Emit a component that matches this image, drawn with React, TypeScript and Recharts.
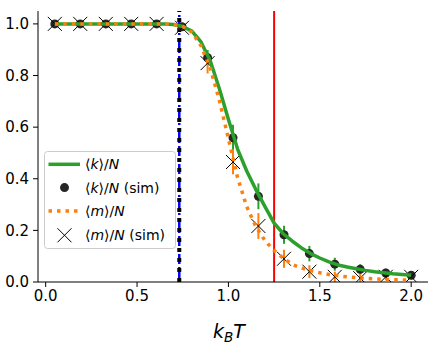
import React from 'react';
import {
  ComposedChart,
  Scatter,
  XAxis,
  YAxis,
  ReferenceLine,
  ErrorBar,
  Legend,
} from 'recharts';

// Simulation temperatures (k_B T)
const simT = [0.05, 0.189, 0.329, 0.468, 0.607, 0.746, 0.886, 1.025, 1.164, 1.304, 1.443, 1.582, 1.721, 1.861, 2.0];
// <k>/N simulation values and errors
const kSim = [1, 1, 1, 1, 1, 0.989, 0.869, 0.559, 0.332, 0.183, 0.11, 0.069, 0.049, 0.035, 0.026];
const kErr = [0.003, 0.003, 0.003, 0.003, 0.003, 0.006, 0.03, 0.05, 0.05, 0.035, 0.03, 0.025, 0.02, 0.017, 0.015];
// <m>/N simulation values and errors
const mSim = [1, 1, 1, 1, 1, 0.985, 0.848, 0.465, 0.217, 0.09, 0.04, 0.02, 0.015, 0.02, 0.02];
const mErr = [0, 0, 0, 0, 0, 0.006, 0.04, 0.048, 0.05, 0.035, 0.025, 0.02, 0.015, 0.012, 0.01];

// Theory curves
const theoryT = [
  0.05, 0.1, 0.15, 0.2, 0.25, 0.3, 0.35, 0.4, 0.45, 0.5, 0.55, 0.6, 0.65, 0.7, 0.75, 0.8, 0.85, 0.9, 0.95, 1.0,
  1.05, 1.1, 1.15, 1.2, 1.25, 1.3, 1.35, 1.4, 1.45, 1.5, 1.55, 1.6, 1.65, 1.7, 1.75, 1.8, 1.85, 1.9, 1.95, 2.0,
];
const kTheory = [
  1, 1, 1, 1, 1, 1, 1, 1, 1, 1, 1, 1, 1, 0.998, 0.99, 0.972, 0.93, 0.858, 0.75, 0.63,
  0.515, 0.43, 0.358, 0.292, 0.228, 0.187, 0.158, 0.132, 0.11, 0.093, 0.078, 0.066, 0.058, 0.051, 0.045, 0.04, 0.036, 0.032, 0.029, 0.026,
];
const mTheory = [
  1, 1, 1, 1, 1, 1, 1, 1, 1, 1, 1, 1, 1, 0.998, 0.99, 0.968, 0.915, 0.83, 0.705, 0.555,
  0.405, 0.292, 0.215, 0.16, 0.122, 0.092, 0.068, 0.054, 0.044, 0.036, 0.029, 0.024, 0.02, 0.017, 0.014, 0.012, 0.01, 0.009, 0.008, 0.007,
];

const xTicks = [0, 0.5, 1.0, 1.5, 2.0];
const yTicks = [0, 0.2, 0.4, 0.6, 0.8, 1.0];
const criticalT1 = 0.731;
const criticalT2 = 1.25;

const kSimData = simT.map((T, i) => ({ T, v: kSim[i], err: kErr[i] }));
const mSimData = simT.map((T, i) => ({ T, v: mSim[i], err: mErr[i] }));
const kTheoryData = theoryT.map((T, i) => ({ T, v: kTheory[i] }));
const mTheoryData = theoryT.map((T, i) => ({ T, v: mTheory[i] }));

const GREEN = '#2ca02c';
const ORANGE = '#ff7f0e';
const DOT = '#262626';
const FONT = 'DejaVu Sans';

const CircleShape = (p: any) => <circle cx={p.cx} cy={p.cy} r={4.5} fill={DOT} stroke="none" />;
const XShape = (p: any) => {
  const s = 7;
  return (
    <path
      d={`M${p.cx - s},${p.cy - s}L${p.cx + s},${p.cy + s}M${p.cx - s},${p.cy + s}L${p.cx + s},${p.cy - s}`}
      stroke="#000"
      strokeWidth={1}
      fill="none"
    />
  );
};
const NoShape = () => <g />;

const XLabel = (props: any) => {
  const vb = props.viewBox || { x: 38, y: 282, width: 390, height: 70 };
  const cx = vb.x + vb.width / 2 - 4;
  const y = vb.y + 56;
  return (
    <text x={cx} y={y} textAnchor="middle" fontFamily={FONT} fontSize={19} fontStyle="italic" fill="#000">
      k<tspan fontSize={13.5} dy={4}>B</tspan>
      <tspan fontSize={19} dy={-4}>T</tspan>
    </text>
  );
};

const MathLabel = ({ v, sim }: { v: string; sim: boolean }) => (
  <>
    <tspan>⟨</tspan>
    <tspan fontStyle="italic">{v}</tspan>
    <tspan>⟩/</tspan>
    <tspan fontStyle="italic">N</tspan>
    {sim ? <tspan> (sim)</tspan> : null}
  </>
);

const LegendBox = () => {
  const rows = [13.3, 36.6, 60, 84.3];
  return (
    <svg width={133} height={99} style={{ display: 'block' }}>
      <rect x={0.5} y={0.5} width={131} height={97} rx={3} ry={3} fill="rgba(255,255,255,0.8)" stroke="#cccccc" strokeWidth={1} />
      <line x1={4.5} x2={36} y1={rows[0]} y2={rows[0]} stroke={GREEN} strokeWidth={3.5} />
      <circle cx={20.5} cy={rows[1]} r={4.5} fill={DOT} />
      <line x1={4.5} x2={36} y1={rows[2]} y2={rows[2]} stroke={ORANGE} strokeWidth={3.5} strokeDasharray="3.5 5" />
      <path
        d={`M${20.5 - 7},${rows[3] - 7}L${20.5 + 7},${rows[3] + 7}M${20.5 - 7},${rows[3] + 7}L${20.5 + 7},${rows[3] - 7}`}
        stroke="#000"
        strokeWidth={1}
      />
      <text x={41} y={rows[0] + 5} fontFamily={FONT} fontSize={14} fill="#000">
        <MathLabel v="k" sim={false} />
      </text>
      <text x={41} y={rows[1] + 5} fontFamily={FONT} fontSize={14} fill="#000">
        <MathLabel v="k" sim={true} />
      </text>
      <text x={41} y={rows[2] + 5} fontFamily={FONT} fontSize={14} fill="#000">
        <MathLabel v="m" sim={false} />
      </text>
      <text x={41} y={rows[3] + 5} fontFamily={FONT} fontSize={14} fill="#000">
        <MathLabel v="m" sim={true} />
      </text>
    </svg>
  );
};

export default function App() {
  const tickStyle = { fontSize: 15, fill: '#000', fontFamily: FONT };
  return (
    <div style={{ position: 'absolute', left: 0, top: 0, width: 439, height: 352, background: '#fff' }}>
      <ComposedChart width={439} height={352} margin={{ top: 11, right: 11, left: 0, bottom: 0 }}>
        <XAxis
          type="number"
          dataKey="T"
          domain={[-0.042, 2.092]}
          ticks={xTicks}
          allowDataOverflow
          tickFormatter={(v: number) => v.toFixed(1)}
          tick={tickStyle}
          tickSize={5}
          tickMargin={3}
          height={70}
          axisLine={{ stroke: '#000', strokeWidth: 1 }}
          tickLine={{ stroke: '#000', strokeWidth: 1 }}
          label={<XLabel />}
        />
        <YAxis
          type="number"
          dataKey="v"
          domain={[0, 1.05]}
          ticks={yTicks}
          allowDataOverflow
          tickFormatter={(v: number) => v.toFixed(1)}
          tick={tickStyle}
          tickSize={5}
          tickMargin={4}
          width={38}
          axisLine={{ stroke: '#000', strokeWidth: 1 }}
          tickLine={{ stroke: '#000', strokeWidth: 1 }}
        />
        <ReferenceLine x={criticalT1} stroke="#0000ff" strokeWidth={2.5} strokeDasharray="10 3 2 3" />
        <ReferenceLine x={criticalT1} stroke="#000" strokeWidth={4} strokeDasharray="4 6" />
        <ReferenceLine x={criticalT2} stroke="#ff0000" strokeWidth={2} />
        <Scatter data={kSimData} dataKey="v" shape={CircleShape} isAnimationActive={false}>
          <ErrorBar dataKey="err" direction="y" width={0} stroke={GREEN} strokeWidth={2} />
        </Scatter>
        <Scatter data={mSimData} dataKey="v" shape={XShape} isAnimationActive={false}>
          <ErrorBar dataKey="err" direction="y" width={0} stroke={ORANGE} strokeWidth={2} />
        </Scatter>
        <Scatter
          data={kTheoryData}
          dataKey="v"
          shape={NoShape}
          line={{ stroke: GREEN, strokeWidth: 3.5, strokeLinejoin: 'round', fill: 'none' }}
          lineType="joint"
          isAnimationActive={false}
        />
        <Scatter
          data={mTheoryData}
          dataKey="v"
          shape={NoShape}
          line={{ stroke: ORANGE, strokeWidth: 3.5, strokeDasharray: '3.5 5', fill: 'none' }}
          lineType="joint"
          isAnimationActive={false}
        />
        <Legend
          layout="vertical"
          align="center"
          verticalAlign="middle"
          content={() => <LegendBox />}
          wrapperStyle={{ position: 'absolute', left: 44, top: 151, width: 133, height: 99, margin: 0, padding: 0 }}
        />
      </ComposedChart>
    </div>
  );
}
